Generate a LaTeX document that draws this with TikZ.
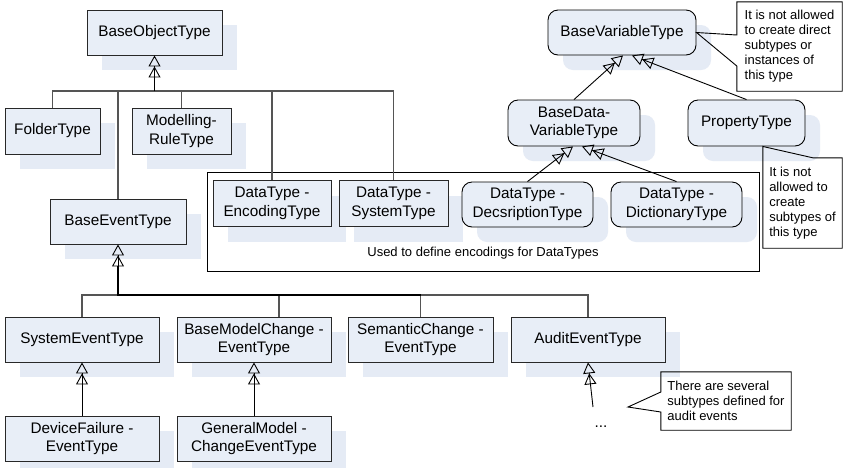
\documentclass[tikz,border=0pt]{standalone}
\usepackage{fontspec}
\setmainfont{Liberation Sans}
\usetikzlibrary{arrows.meta,shadows,calc}
\definecolor{boxfill}{RGB}{232,238,247}
\definecolor{shadowc}{RGB}{229,235,245}
\definecolor{linec}{RGB}{40,40,40}
\definecolor{connc}{RGB}{85,85,85}
\newcommand\boxfnt{\fontsize{15.3}{18.5}\selectfont}
\newcommand\notefnt{\fontsize{13}{15}\selectfont}
\begin{document}
\begin{tikzpicture}[x=1pt,y=-1pt,
  box/.style={draw=linec, fill=boxfill, line width=0.9pt, inner sep=0pt, align=center, font=\boxfnt, minimum height=45, drop shadow={shadow xshift=15pt,shadow yshift=-15pt,opacity=1,fill=shadowc,draw=none}},
  rbox/.style={box, draw=black, rounded corners=10pt},
  gen/.style={draw=black, line width=0.9pt, -{Triangle[open,length=11pt,width=12pt,sep=0pt]Triangle[open,length=11pt,width=12pt]}},
  conn/.style={draw=connc, line width=1.1pt},
  trunk/.style={draw=black, line width=1.8pt},
  notetext/.style={align=left, font=\notefnt, inner sep=0pt},
  noteline/.style={draw=black, line width=0.9pt, line join=miter},
]
\fill[white] (0,0) rectangle (843,467);
\useasboundingbox (0,0) rectangle (843,467);

% container
\node[draw=black, line width=0.9pt, minimum width=552, minimum height=99, inner sep=0pt] (CT) at (483,221.5) {};
\node[font=\notefnt, inner sep=0pt] (CTL) at (483,253) {Used to define encodings for DataTypes};

% object types
\node[box, minimum width=135] (BOT) at (154.5,32.5) {BaseObjectType};
\node[box, minimum width=95, minimum height=46] (FT) at (52.5,131) {FolderType};
\node[box, minimum width=99, minimum height=46] (MRT) at (181.5,131) {Modelling-\\RuleType};
\node[box, minimum width=136] (BET) at (118,221.5) {BaseEventType};
\node[box, minimum width=118, minimum height=46] (ENC) at (272,203.5) {DataType -\\EncodingType};
\node[box, minimum width=109, minimum height=46] (SYS) at (393.5,203.5) {DataType -\\SystemType};

% variable types
\node[rbox, minimum width=131] (DESC) at (527.5,204.5) {DataType -\\DecsriptionType};
\node[rbox, minimum width=131] (DICT) at (676.5,204.5) {DataType -\\DictionaryType};
\node[rbox, minimum width=148] (BVT) at (622,32.5) {BaseVariableType};
\node[rbox, minimum width=132, minimum height=46] (BDVT) at (574,123) {BaseData-\\VariableType};
\node[rbox, minimum width=117, minimum height=46] (PT) at (746.5,123) {PropertyType};

% event types
\node[box, minimum width=154] (SET) at (82,339.5) {SystemEventType};
\node[box, minimum width=154] (BMC) at (254,339.5) {BaseModelChange -\\EventType};
\node[box, minimum width=145] (SCE) at (420.5,339.5) {SemanticChange -\\EventType};
\node[box, minimum width=154] (AET) at (588,339.5) {AuditEventType};
\node[box, minimum width=154] (DF) at (82,438.5) {DeviceFailure -\\EventType};
\node[box, minimum width=154] (GM) at (254,438.5) {GeneralModel -\\ChangeEventType};

% top bus
\coordinate (b1) at (154.5,91);
\draw[conn] (FT.north) |- (b1);
\draw[conn] (MRT.north) |- (b1);
\draw[conn] (BET.north) |- (b1);
\draw[conn] (ENC.north) |- (b1);
\draw[conn] (SYS.north) |- (b1);
\draw[trunk] (b1) -- ($(BOT.south)+(0,22)$);
\draw[gen] (b1) -- (BOT.south);

% bottom bus
\coordinate (b2) at (118,295);
\draw[conn] (SET.north) |- (b2);
\draw[conn] ($(BMC.north)+(25,0)$) |- (b2);
\draw[conn] (SCE.north) |- (b2);
\draw[conn] (AET.north) |- (b2);
\draw[trunk] ($(BET.south)+(0,22)$) -- (b2) -- (SCE.north |- b2);
\draw[gen] (b2) -- (BET.south);

% second level event subtypes
\draw[gen] (DF.north) -- (SET.south);
\draw[gen] (GM.north) -- (BMC.south);

% variable type hierarchy
\draw[gen] (BDVT.north) -- ($(BVT.south)+(1,0)$);
\draw[gen] (PT.north) -- ($(BVT.south)+(10,0)$);
\draw[gen] (DESC.north) -- ($(BDVT.south)+(-1,0)$);
\draw[gen] (DICT.north) -- ($(BDVT.south)+(8,0)$);

% audit subtypes
\node[font=\boxfnt, inner sep=0pt] (DOTS) at (601,427) {...};
\coordinate (aetEnd) at (593,407);
\draw[gen] (aetEnd) -- (AET.south);

% notes
\node[notetext, minimum width=105, minimum height=89] (N1) at (789.5,46.5) {It is not allowed\\to create direct\\subtypes or\\instances of\\this type};
\draw[noteline] (N1.west |- 0,66) -- (N1.south west) -- (N1.south east) -- (N1.north east) -- (N1.north west) -- (N1.west |- 0,35) -- (BVT.east) -- cycle;

\node[notetext, minimum width=79, minimum height=90] (N2) at (802.5,203) {It is not\\allowed to\\create\\subtypes of\\this type};
\draw[noteline] ($(N2.north west)+(50,0)$) -- (N2.north east) -- (N2.south east) -- (N2.south west) -- (N2.north west) -- (N2.west |- PT.south) -- cycle;

\node[notetext, minimum width=130, minimum height=58] (N3) at (726,401) {There are several\\subtypes defined for\\audit events};
\coordinate (p3) at (628,407);
\draw[noteline] (N3.west |- 0,412) -- (N3.south west) -- (N3.south east) -- (N3.north east) -- (N3.north west) -- (N3.west |- 0,392) -- (p3) -- cycle;
\end{tikzpicture}
\end{document}
